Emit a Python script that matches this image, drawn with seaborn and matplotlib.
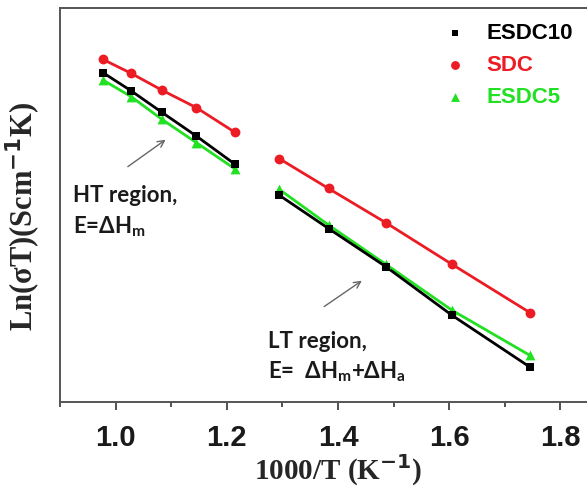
import numpy as np
import pandas as pd
import seaborn as sns
import matplotlib
matplotlib.use("Agg")
import matplotlib.pyplot as plt
from matplotlib.ticker import MultipleLocator, NullLocator

# --- Data ---
INV_T = [0.977, 1.028, 1.083, 1.145, 1.215, 1.294, 1.383, 1.486, 1.605, 1.745]
REGION = ['HT'] * 5 + ['LT'] * 5
LN_ESDC10 = [3.66, 3.19, 2.64, 2.03, 1.30, 0.51, -0.35, -1.33, -2.58, -3.91]
LN_SDC = [4.00, 3.64, 3.21, 2.76, 2.12, 1.45, 0.68, -0.20, -1.27, -2.51]
LN_ESDC5 = [3.47, 3.04, 2.46, 1.86, 1.18, 0.66, -0.26, -1.27, -2.45, -3.61]

SAMPLES = ['ESDC10', 'SDC', 'ESDC5']
COLORS = {'ESDC10': '#000000', 'SDC': '#ec1c24', 'ESDC5': '#22e022'}
MARKERS = {'ESDC10': 's', 'SDC': 'o', 'ESDC5': '^'}


def build_frame():
    rows = []
    for name, vals in zip(SAMPLES, [LN_ESDC10, LN_SDC, LN_ESDC5]):
        for x, y, r in zip(INV_T, vals, REGION):
            rows.append({'x': x, 'y': y, 'region': r, 'sample': name})
    return pd.DataFrame(rows)


def main():
    df = build_frame()
    sns.set_theme(style="white")

    fig = plt.figure(figsize=(5.87, 4.87), dpi=100)
    ax = fig.add_axes([60 / 587, 85 / 487, 556 / 587, 394 / 487])

    # lines per region (green first so black sits on top in HT)
    draw_order = ['ESDC5', 'ESDC10', 'SDC']
    for name in draw_order:
        sub = df[df['sample'] == name]
        sns.lineplot(data=sub, x='x', y='y', units='region', estimator=None,
                     color=COLORS[name], lw=2.0, sort=False, legend=False, ax=ax)

    sizes = {'ESDC10': 30, 'SDC': 50, 'ESDC5': 50}
    for name in draw_order:
        sub = df[df['sample'] == name]
        sns.scatterplot(data=sub, x='x', y='y', marker=MARKERS[name],
                        color=COLORS[name], s=sizes[name], edgecolor=COLORS[name],
                        linewidth=0, label=name, ax=ax, zorder=3)

    ax.set_xlim(0.9, 1.9)
    ax.set_ylim(-4.81, 5.32)
    ax.xaxis.set_major_locator(MultipleLocator(0.2))
    ax.xaxis.set_minor_locator(MultipleLocator(0.1))
    ax.yaxis.set_major_locator(NullLocator())
    ax.tick_params(axis='x', which='major', direction='out', length=6, width=1.3,
                   color='#444444', bottom=True, pad=10)
    ax.tick_params(axis='x', which='minor', direction='out', length=3.5, width=1.3,
                   color='#444444', bottom=True)
    for lab in ax.get_xticklabels():
        lab.set_fontfamily('Liberation Sans')
        lab.set_fontweight('bold')
        lab.set_fontsize(21)
        lab.set_color('#1a1a1a')
    for sp in ax.spines.values():
        sp.set_color('#555555')
        sp.set_linewidth(1.4)

    ax.set_xlabel('1000/T (K$^{\\mathbf{-1}}$)', fontsize=21, fontweight='bold',
                  fontfamily='Liberation Serif', labelpad=0)
    ax.set_ylabel('Ln(σT)(Scm$^{\\mathbf{-1}}$K)', fontsize=22, fontweight='bold',
                  fontfamily='Liberation Serif')
    ax.yaxis.set_label_coords(-0.03, 0.47)

    # legend: markers only, coloured text
    handles, labels = ax.get_legend_handles_labels()
    order = [labels.index(n) for n in SAMPLES]
    leg = ax.legend([handles[i] for i in order], [labels[i] for i in order],
                    loc='upper left', bbox_to_anchor=(444 / 587, 1 - 23 / 487),
                    bbox_transform=fig.transFigure, frameon=False,
                    handlelength=1.0, handletextpad=0.9, labelspacing=0.5,
                    borderpad=0, borderaxespad=0, markerscale=0.9,
                    prop={'family': 'Liberation Sans', 'weight': 'bold', 'size': 16})
    for txt, name in zip(leg.get_texts(), SAMPLES):
        txt.set_color(COLORS[name])

    # region annotations
    tfont = dict(fontfamily='Lato', fontsize=16, color='#1a1a1a', fontweight='bold')
    ax.text(0.9225, 0.33, 'HT region,', **tfont)
    ax.text(0.9225, -0.47, 'E=ΔH$_\\mathregular{m}$', **tfont)
    ax.text(1.274, -3.43, 'LT region,', **tfont)
    ax.text(1.274, -4.20, 'E=  ΔH$_\\mathregular{m}$+ΔH$_\\mathregular{a}$', **tfont)

    arrow = dict(arrowstyle='->', color='#666666', lw=1.0)
    ax.annotate('', xy=(1.094, 1.976), xytext=(1.018, 1.20), arrowprops=arrow)
    ax.annotate('', xy=(1.447, -1.651), xytext=(1.371, -2.397), arrowprops=arrow)

    fig.savefig('out.png', dpi=100)
    plt.close(fig)


if __name__ == '__main__':
    main()
